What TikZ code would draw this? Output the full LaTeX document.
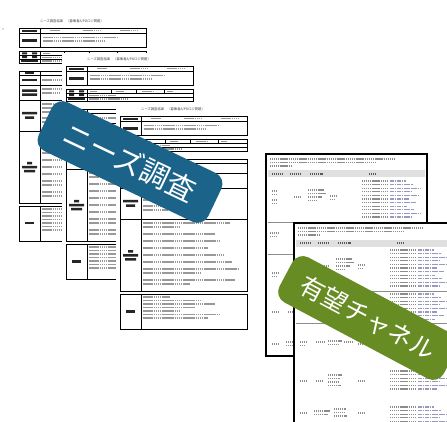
\documentclass[tikz,border=0pt]{standalone}
\usepackage{fontspec}
\newfontfamily\jp{Noto Sans CJK JP}
\definecolor{labelblue}{RGB}{28,99,138}
\definecolor{labelgreen}{RGB}{104,140,36}
\tikzset{
 frm/.style={line width=0.9pt, black},
 thinfrm/.style={line width=0.5pt, black},
 txt/.style={line width=1.2pt, black!40, dash pattern=on 1.6pt off 0.5pt},
 blob/.style={fill=black!85},
 stxt/.style={line width=1.1pt, black!45, dash pattern=on 1.3pt off 0.6pt},
 ctxt/.style={line width=1.1pt, blue!35!black!40, dash pattern=on 1.8pt off 0.5pt},
 hdr/.style={fill=black!12},
 sep/.style={line width=0.7pt, black!45},
 sheetframe/.style={line width=1.6pt, black},
 tag/.style={rounded corners=12pt, text=white, inner sep=0pt},
 doctitle/.style={font=\jp\fontsize{3.3}{3.3}\selectfont, text=black!75, inner sep=0pt},
}
\newcommand{\densecol}[2]{%
 \foreach \k in {0,...,#2}{%
  \pgfmathsetmacro\ya{#1+\k*3.6}%
  \pgfmathsetmacro\ea{140+mod(\k*7,16)}%
  \draw[stxt] (96,\ya) -- (122,\ya);
  \draw[ctxt] (124,\ya) -- (\ea,\ya);
 }}
\newcommand{\formdoc}[3]{%
\begin{scope}[shift={(#1,#2)}]
\fill[white] (-4,-13) rectangle (131,216);
\node[doctitle] (#3t) at (53,-6.5) {ニーズ調査結果　（募集者A/PDロジ問題）};
% block1
\draw[frm] (0,0) rectangle (127,19.5);
\draw[frm] (0,5.5) -- (127,5.5) (21,0) -- (21,19.5);
\fill[blob] (3,1.7) rectangle (18,4);
\fill[blob] (3,11.2) rectangle (18,13.8);
\draw[txt] (31,2.8)--(41,2.8) (64,2.8)--(81,2.8) (101,2.8)--(118,2.8);
\draw[txt] (24,9.5)--(98,9.5) (24,13)--(86,13);
% block2
\draw[frm] (0,23.5) rectangle (127,35);
\draw[frm] (0,27.3)--(127,27.3) (0,31.1)--(127,31.1) (21,23.5)--(21,35);
\draw[thinfrm] (45,23.5)--(45,27.3) (70,23.5)--(70,27.3) (98,23.5)--(98,27.3);
\fill[blob] (3,24.4) rectangle (8,26.4) (13,24.4) rectangle (18,26.4);
\fill[blob] (3,28.2) rectangle (8,30.2) (13,28.2) rectangle (18,30.2);
\fill[blob] (2,32.1) rectangle (19,34.1);
\draw[txt] (24,25.4)--(31,25.4) (50,25.4)--(58,25.4) (76,25.4)--(88,25.4) (101,25.4)--(107,25.4);
\draw[txt] (23,29.2)--(50,29.2) (23,33.1)--(62,33.1);
% block3
\draw[frm] (0,43) rectangle (127,175);
\draw[frm] (0,47.7)--(127,47.7) (0,57)--(127,57) (0,72)--(127,72) (0,103)--(127,103) (21,43)--(21,175);
\fill[blob] (6,44.3) rectangle (15,46.4);
\fill[blob] (3,50.6) rectangle (18,53.2);
\fill[blob] (3,61.5) rectangle (18,64) (3,65.5) rectangle (18,68);
\fill[blob] (3,84) rectangle (18,86.5) (6,88.5) rectangle (15,91);
\fill[blob] (8,134) rectangle (13,136.5) (3,138) rectangle (18,140.5) (5,142) rectangle (16,144.5);
\draw[txt] (23,52)--(50,52);
\draw[txt] (23,61)--(60,61) (23,65)--(40,65);
\draw[txt] (23,76)--(58,76) (23,80)--(55,80) (23,84)--(50,84) (23,90)--(62,90) (23,94)--(48,94);
\draw[txt] (23,107)--(110,107) (23,111)--(60,111) (23,118)--(95,118) (23,125)--(100,125)
  (23,132)--(88,132) (23,139)--(104,139) (23,146)--(112,146) (23,153)--(118,153)
  (23,157)--(80,157) (23,164)--(115,164) (23,168)--(70,168);
% block4
\draw[frm] (0,178) rectangle (127,213);
\draw[frm] (21,178)--(21,213);
\fill[blob] (6,194) rectangle (15,196.5);
\draw[txt] (23,181)--(50,181) (23,184.5)--(80,184.5) (23,188)--(95,188) (23,191.5)--(75,191.5)
  (23,195)--(60,195) (23,198.5)--(100,198.5) (23,202)--(88,202);
\end{scope}}
\newcommand{\sheetdoc}[4]{%
\begin{scope}[shift={(#1,#2)}]
 \fill[white] (0,0) rectangle (#3,#4);
 \begin{scope}
  \clip (0,0) rectangle (#3,#4);
  \draw[stxt] (4,5)--(128,5) (4,8.5)--(110,8.5) (4,12)--(26,12);
  \fill[hdr] (2,16.5) rectangle (159,23.5);
  \draw[stxt,black!65] (6,20)--(16,20) (24,20)--(34,20) (44,20)--(57,20) (103,20)--(110,20);
  \draw[stxt] (6,37)--(11,37) (6,40.5)--(10,40.5) (6,46)--(11,46) (6,49.5)--(10,49.5) (28,43)--(35,43)
   (42,36)--(58,36) (42,39.5)--(60,39.5) (42,43)--(56,43) (42,46.5)--(50,46.5) (64,42)--(70,42) (64,45.5)--(69,45.5);
  \densecol{27}{10}
  \draw[sep] (2,68.5)--(159,68.5);
  \draw[stxt] (4,79)--(12,79) (4,82.5)--(10,82.5) (42,78)--(55,78) (42,81.5)--(58,81.5) (64,80)--(70,80);
  \densecol{71}{7}
  \draw[sep] (2,100)--(159,100);
  \draw[stxt] (6,119)--(12,119) (6,122.5)--(10,122.5) (22,119)--(30,119) (34,118)--(48,118)
   (34,121.5)--(45,121.5) (50,119)--(58,119) (64,121)--(70,121);
  \densecol{106}{6}
  \draw[stxt] (6,158)--(12,158) (22,158)--(28,158) (34,152)--(48,152) (34,155.5)--(46,155.5)
   (34,159)--(44,159) (34,162.5)--(47,162.5) (64,158)--(70,158);
  \densecol{148}{5}
  \draw[stxt] (6,190)--(12,190) (20,188)--(36,188) (20,191.5)--(34,191.5) (40,186)--(52,186)
   (40,189.5)--(50,189.5) (40,193)--(53,193) (64,190)--(70,190);
  \densecol{184}{4}
 \end{scope}
 \draw[sheetframe] (0,0) rectangle (#3,#4);
\end{scope}}
\begin{document}
\begin{tikzpicture}[x=1pt,y=-1pt]
\useasboundingbox (0,0) rectangle (447,422);
\fill[white] (0,0) rectangle (447,422);
\fill[black!60] (3,29) circle (0.7);
\formdoc{19}{28}{fa}
\formdoc{66}{66}{fb}
\formdoc{120}{116}{fc}
\node[tag, fill=labelblue, minimum width=188pt, minimum height=54pt, rotate=-25.5,
  font=\jp\fontsize{29}{29}\selectfont] (needs) at (130,162) {ニーズ調査};
\sheetdoc{266}{154}{161}{202}
\sheetdoc{294}{223}{175}{230}
\node[tag, fill=labelgreen, minimum width=186pt, minimum height=51pt, rotate=-28,
  font=\jp\fontsize{25}{25}\selectfont] (channel) at (368,318) {有望チャネル};
\end{tikzpicture}
\end{document}
